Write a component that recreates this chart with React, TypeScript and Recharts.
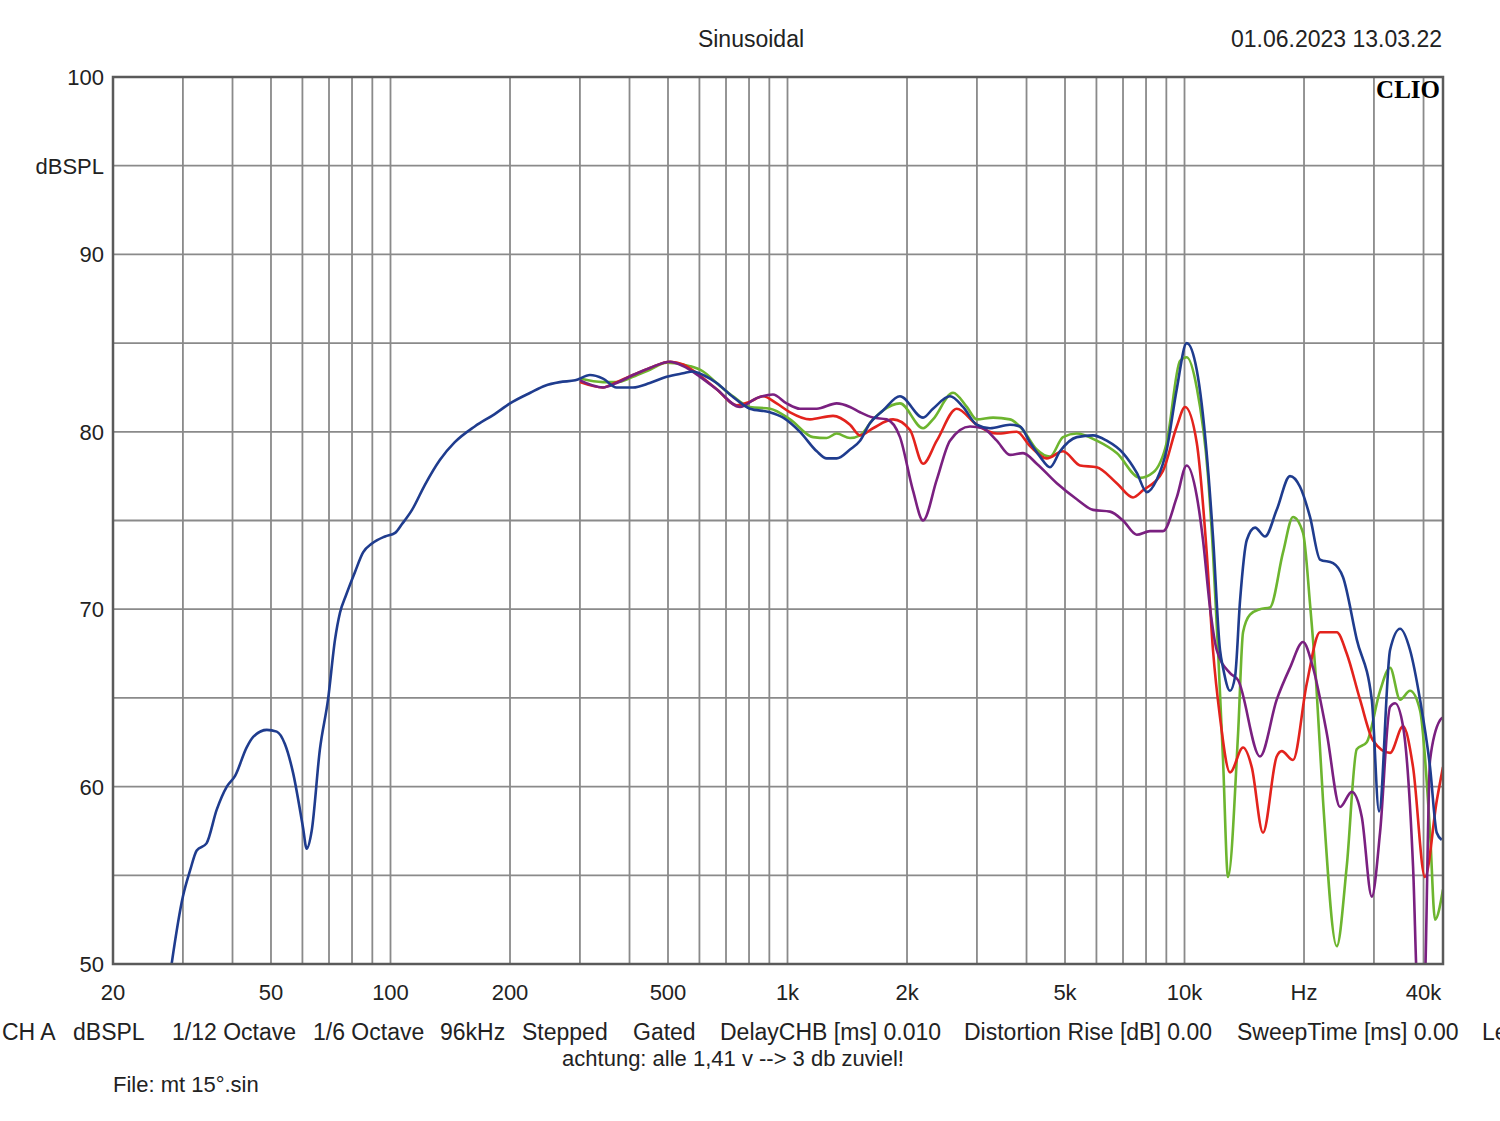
import { LineChart, Line, XAxis, YAxis, CartesianGrid } from 'recharts';

const W = 1500;
const H = 1121;
const PLOT_LEFT = 113;
const PLOT_TOP = 77;
const PLOT_RIGHT = 1443;
const PLOT_BOTTOM = 964;

const FONT = "'Liberation Sans', Arial, sans-serif";
const TEXT = '#222';

// frequency axis (Hz), log scale
const F_MIN = 20;
const F_MAX = 44780;
const X_GRID = [
  20, 30, 40, 50, 60, 70, 80, 90, 100, 200, 300, 400, 500, 600, 700, 800, 900, 1000,
  2000, 3000, 4000, 5000, 6000, 7000, 8000, 9000, 10000, 20000, 30000, 40000,
];
const X_LABELS: Record<number, string> = {
  20: '20', 50: '50', 100: '100', 200: '200', 500: '500', 1000: '1k', 2000: '2k',
  5000: '5k', 10000: '10k', 20000: 'Hz', 40000: '40k',
};

// level axis (dBSPL)
const Y_GRID = [50, 55, 60, 65, 70, 75, 80, 85, 90, 95, 100];
const Y_MINOR = Array.from({ length: 51 }, (_, i) => 50 + i);

// [frequency Hz, dBSPL]
const BLUE: [number, number][] = [
  [27.5, 48.5], [28.1, 50.0], [30.0, 53.8], [31.3, 55.3], [32.5, 56.4], [34.4, 56.8],
  [36.5, 58.7], [38.7, 60.0], [40.6, 60.6], [43.4, 62.2], [45.1, 62.8], [48.8, 63.2],
  [51.7, 63.1], [54.2, 62.4], [56.8, 60.8], [60.2, 57.7], [61.5, 56.5], [63.3, 57.5],
  [66.4, 62.1], [69.6, 64.9], [72.5, 68.3], [74.6, 69.8], [77.3, 70.8], [81.4, 72.1],
  [85.3, 73.2], [89.8, 73.7], [96.9, 74.1], [102.7, 74.3], [106.9, 74.8], [113.3, 75.6],
  [122, 77.0], [133, 78.4], [145, 79.4], [163, 80.3], [183, 81.0], [200, 81.6],
  [225, 82.2], [245, 82.6], [267, 82.8], [292, 82.9], [318, 83.2], [343, 83.0],
  [371, 82.5], [408, 82.5], [450, 82.75], [496, 83.1], [546, 83.3], [578, 83.4],
  [613, 83.2], [663, 82.75], [729, 81.96], [804, 81.3], [904, 81.1], [975, 80.8],
  [1075, 80.0], [1185, 78.9], [1255, 78.5], [1330, 78.5], [1437, 79.0], [1523, 79.5],
  [1614, 80.5], [1740, 81.2], [1920, 82.0], [2195, 80.8], [2325, 81.3], [2566, 82.0],
  [2768, 81.4], [2996, 80.4], [3238, 80.2], [3634, 80.4], [3852, 80.3], [4082, 79.4],
  [4325, 78.6], [4583, 78.0], [4857, 78.9], [5354, 79.7], [5883, 79.8], [6368, 79.5],
  [7000, 78.8], [7578, 77.7], [8034, 76.6], [8511, 77.3], [9020, 79.0], [9559, 82.4],
  [10128, 85.0], [10733, 83.5], [11372, 78.8], [11796, 74.1], [12286, 67.7], [12503, 66.7],
  [13022, 65.4], [13406, 66.2], [13802, 70.5], [14349, 73.9], [15054, 74.6], [15952, 74.1],
  [17070, 75.6], [18437, 77.5], [19539, 76.9], [20707, 75.2], [21944, 72.8], [23666, 72.6],
  [25079, 71.8], [27152, 68.3], [29626, 64.9], [30906, 58.6], [32942, 67.7], [34910, 68.9],
  [36986, 67.7], [39198, 64.9], [41540, 61.1], [43186, 57.4], [44458, 57.0],
];

const GREEN: [number, number][] = [
  [300, 83.0], [343, 82.8], [371, 82.8], [408, 83.1], [450, 83.5], [496, 83.9],
  [568, 83.7], [613, 83.4], [663, 82.75], [729, 82.0], [804, 81.4], [904, 81.3],
  [1015, 80.7], [1160, 79.7], [1255, 79.65], [1330, 79.9], [1437, 79.65], [1523, 79.8],
  [1642, 80.7], [1740, 81.2], [1920, 81.6], [2195, 80.2], [2325, 80.7], [2612, 82.2],
  [2829, 81.4], [2996, 80.7], [3294, 80.8], [3634, 80.7], [3920, 80.1], [4244, 79.0],
  [4583, 78.6], [4943, 79.7], [5354, 79.9], [6010, 79.5], [6750, 78.8], [7726, 77.4],
  [8332, 77.7], [9020, 79.4], [9746, 84.0], [10128, 84.2], [10733, 82.5], [11460, 77.5],
  [11796, 73.2], [12146, 67.7], [12503, 61.5], [12872, 54.9], [13644, 63.0], [14042, 68.7],
  [14622, 69.7], [15492, 70.0], [16420, 70.1], [17706, 73.2], [18764, 75.2], [19886, 74.3],
  [20707, 70.3], [21440, 66.0], [22332, 59.2], [24180, 51.0], [25620, 55.5], [27152, 62.1],
  [28776, 62.5], [31080, 65.4], [32942, 66.7], [34910, 64.9], [36986, 65.4], [39198, 64.3],
  [41540, 57.4], [42760, 52.5], [44780, 54.2],
];

const RED: [number, number][] = [
  [300, 82.8], [343, 82.5], [371, 82.8], [408, 83.2], [450, 83.6], [506, 83.95],
  [546, 83.8], [591, 83.3], [663, 82.4], [745, 81.5], [804, 81.7], [868, 82.0],
  [939, 81.6], [1015, 81.1], [1139, 80.7], [1302, 80.9], [1437, 80.4], [1523, 79.8],
  [1642, 80.2], [1844, 80.7], [2035, 80.1], [2195, 78.2], [2377, 79.5], [2668, 81.3],
  [2996, 80.4], [3366, 79.9], [3778, 80.0], [4082, 79.2], [4497, 78.5], [4943, 78.9],
  [5456, 78.1], [6010, 78.0], [6750, 77.1], [7418, 76.3], [7860, 76.7], [8826, 77.8],
  [9559, 80.3], [10030, 81.4], [10733, 79.4], [11372, 73.2], [11796, 67.7], [12286, 63.9],
  [13022, 60.8], [14042, 62.2], [14768, 61.1], [15766, 57.4], [17070, 61.7], [17572, 62.0],
  [18764, 61.5], [20316, 65.8], [21944, 68.7], [24180, 68.7], [25620, 67.5], [27680, 64.9],
  [29842, 62.6], [32942, 61.9], [35518, 63.4], [37640, 61.1], [40342, 54.9], [43186, 59.2],
  [44780, 61.1],
];

const PURPLE: [number, number][] = [
  [300, 82.9], [343, 82.5], [371, 82.75], [408, 83.2], [450, 83.6], [506, 83.95],
  [546, 83.7], [602, 83.1], [663, 82.4], [759, 81.4], [836, 81.9], [919, 82.1],
  [995, 81.6], [1075, 81.3], [1185, 81.3], [1330, 81.6], [1437, 81.4], [1523, 81.1],
  [1642, 80.8], [1778, 80.7], [1920, 79.7], [2070, 76.7], [2195, 75.0], [2377, 77.3],
  [2566, 79.5], [2882, 80.3], [3107, 80.2], [3366, 79.5], [3634, 78.7], [3920, 78.8],
  [4244, 78.2], [4768, 77.1], [5354, 76.2], [5883, 75.6], [6492, 75.5], [7000, 75.0],
  [7578, 74.2], [8186, 74.4], [8826, 74.4], [9559, 76.3], [10128, 78.1], [10733, 76.4],
  [11132, 73.9], [11592, 70.1], [12052, 67.7], [13022, 66.4], [13644, 66.0], [15492, 61.7],
  [17070, 64.9], [18437, 66.7], [19886, 68.15], [21074, 66.7], [22826, 63.0], [24648, 58.85],
  [26380, 59.7], [27952, 58.3], [29626, 53.8], [31080, 57.4], [32942, 64.5], [33912, 64.7],
  [35518, 63.4], [37640, 55.5], [38754, 48], [40110, 48], [41540, 61.5], [44016, 63.75],
  [44780, 63.9],
];

const SERIES = [
  { name: 'green', color: '#6db52f', points: GREEN },
  { name: 'red', color: '#e3231d', points: RED },
  { name: 'purple', color: '#7a2080', points: PURPLE },
  { name: 'blue', color: '#1f3c8e', points: BLUE },
];

const BOTTOM_ROW = [
  { x: 2, text: 'CH A' },
  { x: 73, text: 'dBSPL' },
  { x: 172, text: '1/12 Octave' },
  { x: 313, text: '1/6 Octave' },
  { x: 440, text: '96kHz' },
  { x: 522, text: 'Stepped' },
  { x: 633, text: 'Gated' },
  { x: 720, text: 'DelayCHB [ms] 0.010' },
  { x: 964, text: 'Distortion Rise [dB] 0.00' },
  { x: 1237, text: 'SweepTime [ms] 0.00' },
  { x: 1482, text: 'Level' },
];

const toRows = (pts: [number, number][]) => pts.map(([f, db]) => ({ f, db }));

function XTick(props: any) {
  const { x, payload } = props;
  const label = X_LABELS[payload.value];
  if (!label) return <g />;
  return (
    <text x={x} y={PLOT_BOTTOM + 36} textAnchor="middle" fontSize={22} fontFamily={FONT} fill={TEXT}>
      {label}
    </text>
  );
}

function YTick(props: any) {
  const { y, payload } = props;
  const v = payload.value;
  let label = '';
  if (v % 10 === 0) label = String(v);
  else if (v === 95) label = 'dBSPL';
  if (!label) return <g />;
  return (
    <text x={PLOT_LEFT - 9} y={y + 8} textAnchor="end" fontSize={22} fontFamily={FONT} fill={TEXT}>
      {label}
    </text>
  );
}

function MinorTick(props: any) {
  const { y, payload } = props;
  if (payload.value % 5 === 0) return <g />;
  return (
    <g stroke="#666" strokeWidth={1.5}>
      <line x1={PLOT_LEFT} x2={PLOT_LEFT + 6} y1={y} y2={y} />
      <line x1={PLOT_RIGHT - 8} x2={PLOT_RIGHT} y1={y} y2={y} />
    </g>
  );
}

export default function App() {
  return (
    <div style={{ position: 'absolute', left: 0, top: 0, width: W, height: H, background: '#fff' }}>
      <LineChart width={W} height={H} margin={{ top: PLOT_TOP, right: W - PLOT_RIGHT, bottom: 117, left: 0 }}>
        <CartesianGrid stroke="#8a8a8a" strokeWidth={1.8} />
        <XAxis
          dataKey="f"
          type="number"
          scale="log"
          domain={[F_MIN, F_MAX]}
          allowDataOverflow
          ticks={X_GRID}
          interval={0}
          tick={<XTick />}
          tickLine={false}
          axisLine={false}
          height={40}
        />
        <YAxis
          type="number"
          domain={[50, 100]}
          allowDataOverflow
          ticks={Y_GRID}
          interval={0}
          tick={<YTick />}
          tickLine={false}
          axisLine={false}
          width={PLOT_LEFT}
        />
        <YAxis
          yAxisId="minor"
          orientation="right"
          type="number"
          domain={[50, 100]}
          ticks={Y_MINOR}
          interval={0}
          tick={<MinorTick />}
          tickLine={false}
          axisLine={false}
          width={0}
        />
        {SERIES.map((s) => (
          <Line
            key={s.name}
            data={toRows(s.points)}
            dataKey="db"
            type="monotone"
            stroke={s.color}
            strokeWidth={2.6}
            dot={false}
            activeDot={false}
            isAnimationActive={false}
          />
        ))}
      </LineChart>
      <svg
        width={W}
        height={H}
        style={{ position: 'absolute', left: 0, top: 0, pointerEvents: 'none' }}
        fontFamily={FONT}
        fill={TEXT}
      >
        <rect
          x={PLOT_LEFT}
          y={PLOT_TOP}
          width={PLOT_RIGHT - PLOT_LEFT}
          height={PLOT_BOTTOM - PLOT_TOP}
          fill="none"
          stroke="#5a5a5a"
          strokeWidth={2.5}
        />
        <text x={751} y={47} textAnchor="middle" fontSize={23}>Sinusoidal</text>
        <text x={1442} y={47} textAnchor="end" fontSize={23}>01.06.2023 13.03.22</text>
        <text x={1440} y={98} textAnchor="end" fontSize={25} fontWeight="bold" fontFamily="'Liberation Serif', 'DejaVu Serif', serif" fill="#000">
          CLIO
        </text>
        {BOTTOM_ROW.map((b) => (
          <text key={b.text} x={b.x} y={1040} fontSize={23}>{b.text}</text>
        ))}
        <text x={733} y={1066} textAnchor="middle" fontSize={22}>achtung: alle 1,41 v --&gt; 3 db zuviel!</text>
        <text x={113} y={1092} fontSize={22}>File: mt 15°.sin</text>
      </svg>
    </div>
  );
}
